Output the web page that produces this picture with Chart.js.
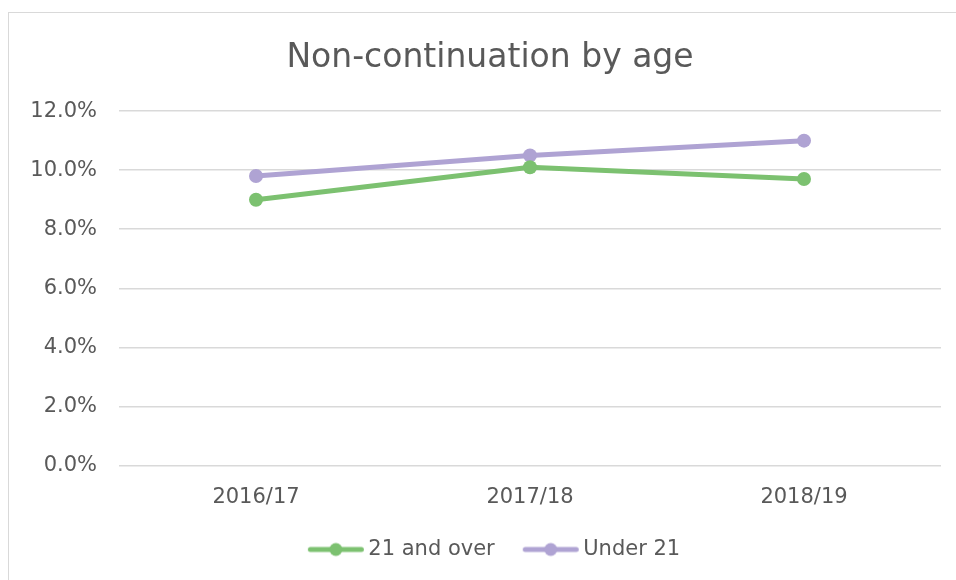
<!DOCTYPE html>
<html>
<head>
<meta charset="utf-8">
<script src="https://cdn.jsdelivr.net/npm/chart.js@4/dist/chart.umd.min.js"></script>
<style>
  html, body { margin: 0; padding: 0; background: #fff; overflow: hidden; }
  #frame {
    position: absolute;
    left: 8px;
    top: 12px;
    width: 980px;
    height: 600px;
    border: 1px solid #d9d9d9;
    box-sizing: border-box;
  }
  #wrap { position: absolute; left: 0; top: 0; width: 962px; height: 557px; }
</style>
</head>
<body>
<div id="frame"><div id="wrap"><canvas id="chart"></canvas></div></div>
<script>
  const years = ['2016/17', '2017/18', '2018/19'];
  const over21 = [9.0, 10.1, 9.7];
  const under21 = [9.8, 10.5, 11.0];
  const yTicks = [0, 2, 4, 6, 8, 10, 12];

  const GREEN = '#7cc170';
  const PURPLE = '#afa3d3';
  const TEXT = '#595959';
  const FONT = '"DejaVu Sans", sans-serif';

  // legend swatch: line with a dot in the middle (Excel style).
  // image is wider than the legend box so the text sits close to the line
  function legendMark(color) {
    const c = document.createElement('canvas');
    c.width = 76;
    c.height = 16;
    const g = c.getContext('2d');
    const a = 17;
    g.strokeStyle = color;
    g.lineWidth = 5;
    g.lineCap = 'round';
    g.beginPath();
    g.moveTo(a + 2.5, 8);
    g.lineTo(a + 53.5, 8);
    g.stroke();
    g.fillStyle = color;
    g.beginPath();
    g.arc(a + 28, 8, 6.5, 0, Math.PI * 2);
    g.fill();
    return c;
  }

  const line = (label, data, color) => ({
    label,
    data,
    borderColor: color,
    backgroundColor: color,
    borderWidth: 5,
    pointRadius: 7,
    pointHoverRadius: 7,
    pointBorderWidth: 0,
    tension: 0,
    fill: false
  });

  new Chart(document.getElementById('chart'), {
    type: 'line',
    data: {
      labels: years,
      datasets: [
        line('21 and over', over21, GREEN),
        line('Under 21', under21, PURPLE)
      ]
    },
    options: {
      responsive: true,
      maintainAspectRatio: false,
      animation: false,
      layout: { padding: 0 },
      plugins: {
        title: {
          display: true,
          text: 'Non-continuation by age',
          color: TEXT,
          font: { family: FONT, size: 33, weight: 'normal' },
          padding: { top: 26, bottom: 32.5 }
        },
        legend: {
          position: 'bottom',
          labels: {
            color: TEXT,
            font: { family: FONT, size: 21 },
            usePointStyle: true,
            pointStyleWidth: 58,
            padding: 20,
            generateLabels(chart) {
              const items = Chart.defaults.plugins.legend.labels.generateLabels(chart);
              items.forEach((it, i) => {
                it.pointStyle = legendMark(chart.data.datasets[i].borderColor);
              });
              return items;
            }
          }
        },
        tooltip: { enabled: false }
      },
      scales: {
        y: {
          min: 0,
          max: 12,
          afterBuildTicks(axis) {
            axis.ticks = yTicks.map((v) => ({ value: v }));
          },
          afterFit(axis) {
            axis.width = 110;
          },
          border: { display: false },
          grid: { color: '#d9d9d9', lineWidth: 1.5, drawTicks: false },
          ticks: {
            color: TEXT,
            padding: 22,
            font: { family: FONT, size: 21 },
            callback: (v) => v.toFixed(1) + '%'
          }
        },
        // empty right-hand strip so the title centres like the original
        yRight: {
          position: 'right',
          afterFit(axis) {
            axis.width = 30;
          },
          border: { display: false },
          grid: { display: false },
          ticks: { display: false }
        },
        x: {
          offset: true,
          afterFit(axis) {
            axis.height = 53.5;
          },
          border: { display: false },
          grid: { display: false, drawTicks: false },
          ticks: {
            color: TEXT,
            padding: 19,
            font: { family: FONT, size: 21 }
          }
        }
      }
    }
  });
</script>
</body>
</html>
